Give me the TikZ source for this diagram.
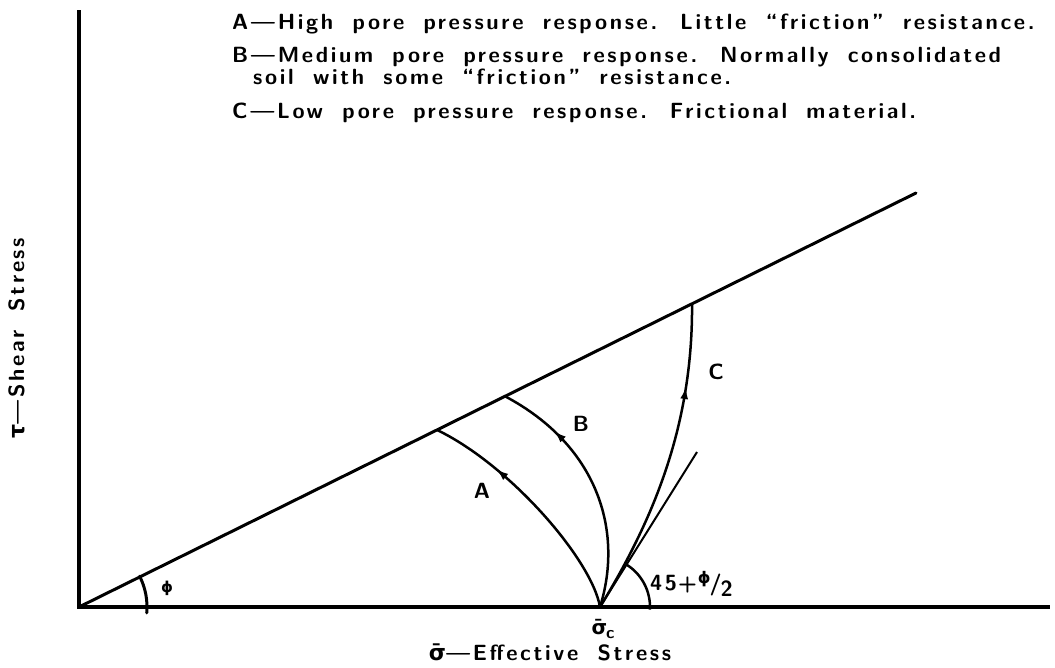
\documentclass[tikz,border=0pt]{standalone}
\usepackage{fontspec}
\usetikzlibrary{arrows.meta,decorations.markings,calc}
\newfontfamily\greekfont{DejaVu Sans}
\newfontfamily\letterfam[LetterSpace=12,WordSpace=1.8]{lmsans10-bold.otf}
\newcommand\letterfont{\letterfam\fontsize{22pt}{26pt}\selectfont}
\tikzset{
  axisline/.style={line width=3.6pt},
  failline/.style={line width=3pt, line cap=round},
  stresspath/.style={line width=2.5pt},
  thinline/.style={line width=2pt},
  lbl/.style={font=\letterfont, inner sep=0pt},
  arrowat/.style={postaction={decorate}, decoration={markings, mark=at position #1 with {\arrow{Latex[length=12pt,width=8pt]}}}}
}
\begin{document}
\begin{tikzpicture}[x=1pt,y=-1pt]
\useasboundingbox (0,0) rectangle (1055,667);
% axes
\coordinate (T) at (79,10);
\coordinate (O) at (79,607);
\coordinate (R) at (1050,607);
\coordinate (F) at (916,193);
\coordinate (S) at (600,607);
\coordinate (L) at (697,452);
\coordinate (Ae) at ($(O)!0.4277!(F)$);
\coordinate (Be) at ($(O)!0.509!(F)$);
\coordinate (Ce) at ($(O)!0.7324!(F)$);
\draw[axisline] (T) -- (O) -- (R);
\draw[failline] (O) -- (F);
% stress paths
\draw[stresspath, arrowat=0.71] (S) .. controls (592,560) and (510,465) .. (Ae);
\draw[stresspath, arrowat=0.76] (S) .. controls (624,530) and (597,445) .. (Be);
\draw[stresspath, arrowat=0.74] (S) .. controls (650,525) and (693,430) .. (Ce);
\draw[thinline] (S) -- (L);
% angle arcs
\draw[stresspath] (S) ++(3:50) arc[start angle=3, end angle=-58, radius=50];
\draw[failline] (O) ++(-27:68) arc[start angle=-27, end angle=5, radius=68];
% labels
\node[lbl, anchor=base west] (tA) at (232,29) {A—High pore pressure response. Little “friction” resistance.};
\node[lbl, anchor=base west] (tB) at (232,62) {B—Medium pore pressure response. Normally consolidated};
\node[lbl, anchor=base west] (tB2) at (253,84) {soil with some “friction” resistance.};
\node[lbl, anchor=base west] (tC) at (232,118) {C—Low pore pressure response. Frictional material.};
\node[lbl] (la) at (482,491) {A};
\node[lbl] (lb) at (581,424) {B};
\node[lbl] (lc) at (716,372) {C};
\node[lbl] (lphi) at (167,588) {\greekfont\bfseries\fontsize{15pt}{15pt}\selectfont ϕ};
\node[lbl, anchor=base west] (l45) at (650,590) {45\kern1pt+\kern1pt\raisebox{7pt}{\greekfont\bfseries\fontsize{16pt}{16pt}\selectfont ϕ}\kern-1pt/\kern-1pt\raisebox{-6pt}{2}};
\node[lbl, anchor=base] (lsig) at (603,634) {{\greekfont\bfseries\fontsize{20pt}{20pt}\selectfont σ̄}\kern-1pt\raisebox{-4pt}{\fontsize{17pt}{17pt}\selectfont c}};
\node[lbl, anchor=base] (lx) at (550,660) {{\greekfont\bfseries σ̄}—Effective Stress};
\node[lbl, rotate=90, anchor=base] (ly) at (24,338) {{\greekfont\bfseries τ}—Shear Stress};
\end{tikzpicture}
\end{document}
